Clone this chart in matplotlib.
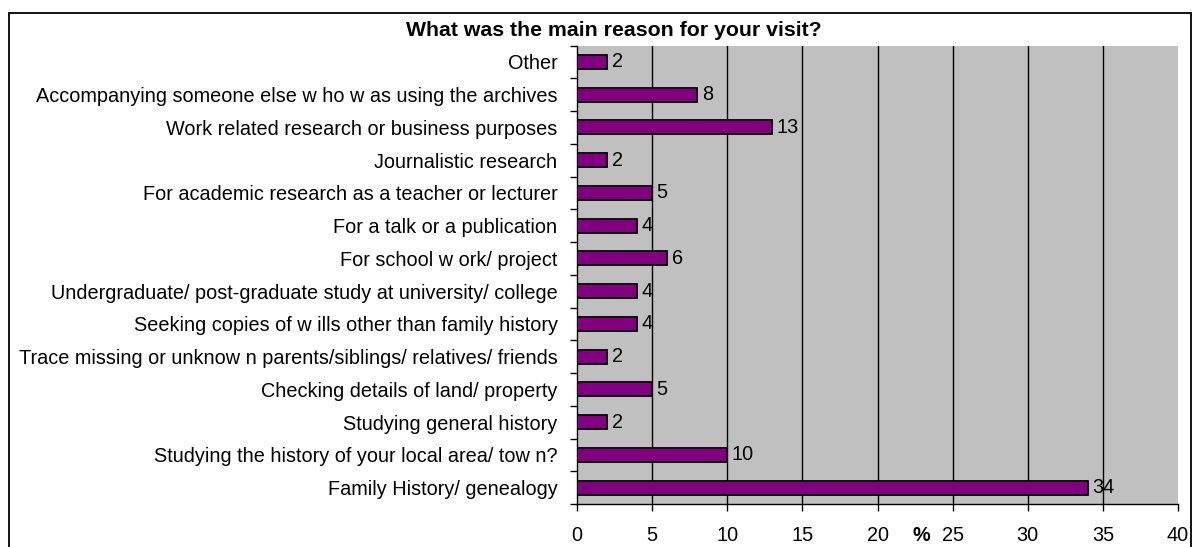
import matplotlib
matplotlib.use("Agg")
import matplotlib.pyplot as plt
from matplotlib.patches import Rectangle

title = "What was the main reason for your visit?"
categories = [
    "Other",
    "Accompanying someone else w ho w as using the archives",
    "Work related research or business purposes",
    "Journalistic research",
    "For academic research as a teacher or lecturer",
    "For a talk or a publication",
    "For school w ork/ project",
    "Undergraduate/ post-graduate study at university/ college",
    "Seeking copies of w ills other than family history",
    "Trace missing or unknow n parents/siblings/ relatives/ friends",
    "Checking details of land/ property",
    "Studying general history",
    "Studying the history of your local area/ tow n?",
    "Family History/ genealogy",
]
values = [2, 8, 13, 2, 5, 4, 6, 4, 4, 2, 5, 2, 10, 34]
xticks = [0, 5, 10, 15, 20, 25, 30, 35, 40]
xlabel = "%"

plt.rcParams['font.family'] = ['Liberation Sans', 'DejaVu Sans']

FS = 14.3
W, H = 1195, 547
fig = plt.figure(figsize=(W / 100, H / 100), dpi=100)
fig.patch.set_facecolor("white")

# outer border
fig.patches.append(Rectangle((9 / W, -0.05), (1191 - 9) / W, 1.05 - 13 / H,
                             transform=fig.transFigure, fill=False,
                             edgecolor="black", linewidth=1.3))

left, right = 577 / W, 1178 / W
top, bottom = 1 - 45.5 / H, 1 - 504 / H
ax = fig.add_axes([left, bottom, right - left, top - bottom])
ax.set_facecolor("#C0C0C0")

n = len(categories)
ypos = list(range(n))[::-1]
ax.barh(ypos, values, height=0.43, color="#800080", edgecolor="black",
        linewidth=1.3, zorder=3)
for y, v in zip(ypos, values):
    ax.text(v + 0.3, y, str(v), va="center", ha="left", fontsize=FS, zorder=4)

ax.set_xlim(0, 40)
ax.set_ylim(-0.5, n - 0.5)
ax.set_xticks(xticks)
ax.set_xticklabels([str(t) for t in xticks], fontsize=FS)
ax.tick_params(axis="x", direction="out", length=5, width=1, pad=10.5)

ax.set_yticks(ypos)
ax.set_yticklabels(categories, fontsize=FS)
ax.tick_params(axis="y", which="major", length=0, pad=14)
ax.set_yticks([i + 0.5 for i in range(-1, n)], minor=True)
ax.tick_params(axis="y", which="minor", direction="out", length=5, width=1)

for t in xticks[1:-1]:
    ax.axvline(t, color="black", linewidth=1, zorder=1)

for s in ["top", "right"]:
    ax.spines[s].set_visible(False)
ax.spines["left"].set_color("black")
ax.spines["bottom"].set_color("black")
ax.spines["left"].set_linewidth(1)
ax.spines["bottom"].set_linewidth(1)

ax.text(22.9, -0.068, xlabel, transform=ax.get_xaxis_transform(),
        ha="center", va="center", fontsize=FS, fontweight="bold")

fig.text(614 / W, 1 - 30 / H, title, ha="center", va="center",
         fontsize=15.3, fontweight="bold")

fig.savefig("out.png", dpi=100)
